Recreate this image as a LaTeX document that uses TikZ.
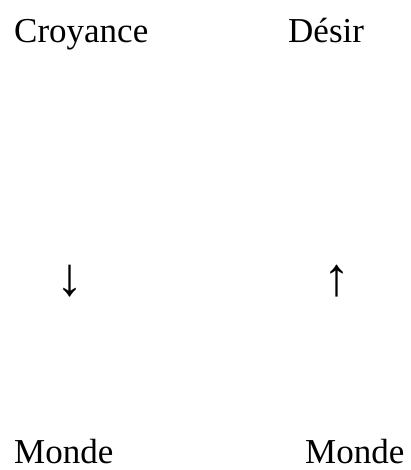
\documentclass[tikz,border=0pt]{standalone}
\usepackage{fontspec}
\setmainfont{Liberation Serif}
\newfontfamily\arrowfont{Liberation Sans}
\begin{document}
\begin{tikzpicture}[x=1pt,y=-1pt,
  word/.style={anchor=base west,inner sep=0pt,font=\fontsize{35}{40}\selectfont},
  arrowglyph/.style={anchor=center,inner sep=0pt,font=\arrowfont\fontsize{54}{58}\selectfont}]
  \useasboundingbox (0,0) rectangle (410,470);
  \node[word] (croyance) at (14,43) {Croyance};
  \node[word] (desir) at (288,43) {Désir};
  \node[arrowglyph] (down) at (70,281) {↓};
  \node[arrowglyph] (up) at (337,281) {↑};
  \node[word] (monde1) at (14,463) {Monde};
  \node[word] (monde2) at (305,463) {Monde};
\end{tikzpicture}
\end{document}
